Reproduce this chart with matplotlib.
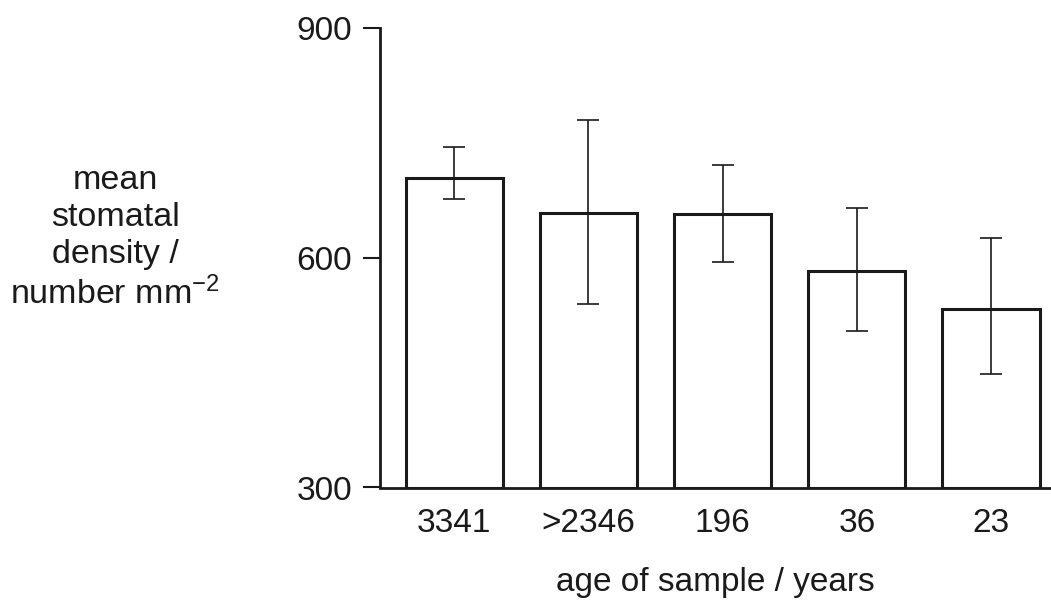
import matplotlib
matplotlib.use("Agg")
import matplotlib.pyplot as plt

plt.rcParams['font.family'] = ['Liberation Sans', 'DejaVu Sans']
plt.rcParams['mathtext.fontset'] = 'custom'
plt.rcParams['mathtext.rm'] = 'Liberation Sans'
plt.rcParams['mathtext.it'] = 'Liberation Sans'

categories = ["3341", ">2346", "196", "36", "23"]
means = [704, 659, 657, 583, 533]
err_upper = [744, 780, 721, 665, 626]
err_lower = [676, 540, 595, 504, 448]
yticks = [300, 600, 900]

fig = plt.figure(figsize=(10.51, 6.0), dpi=100)
ax = fig.add_axes([380/1051, 1-487.5/600, 1-380/1051, (487.5-27.9)/600])

x = list(range(len(categories)))
ax.bar(x, [m - 300 for m in means], bottom=300, width=0.723, color='white',
       edgecolor='#1a1a1a', linewidth=2.2, zorder=2)
yerr = [[m - lo for m, lo in zip(means, err_lower)],
        [hi - m for m, hi in zip(means, err_upper)]]
ax.errorbar(x, means, yerr=yerr, fmt='none', ecolor='#1a1a1a', elinewidth=1.2,
            capsize=8, capthick=1.2, zorder=3)

ax.set_xlim(-0.553, 4.447)
ax.set_ylim(300, 900)
ax.set_yticks(yticks)
ax.set_yticklabels([str(t) for t in yticks])
ax.set_xticks(x)
ax.set_xticklabels(categories)
ax.tick_params(axis='y', length=12, width=1.5, pad=8, labelsize=24, colors='#1a1a1a')
ax.tick_params(axis='x', length=0, pad=15, labelsize=24, colors='#1a1a1a')
for s in ['top', 'right']:
    ax.spines[s].set_visible(False)
for s in ['left', 'bottom']:
    ax.spines[s].set_linewidth(2.0)
    ax.spines[s].set_color('#1a1a1a')
ax.spines['left'].set_bounds(300, 900)

ax.set_xlabel("age of sample / years", fontsize=24, labelpad=20, color='#1a1a1a')
fig.text(115/1051, 1-238/600, "mean\nstomatal\ndensity /\nnumber mm$^{-2}$",
         ha='center', va='center', multialignment='center', fontsize=24.5,
         linespacing=1.25, color='#1a1a1a')

fig.savefig("out.png", dpi=100)
